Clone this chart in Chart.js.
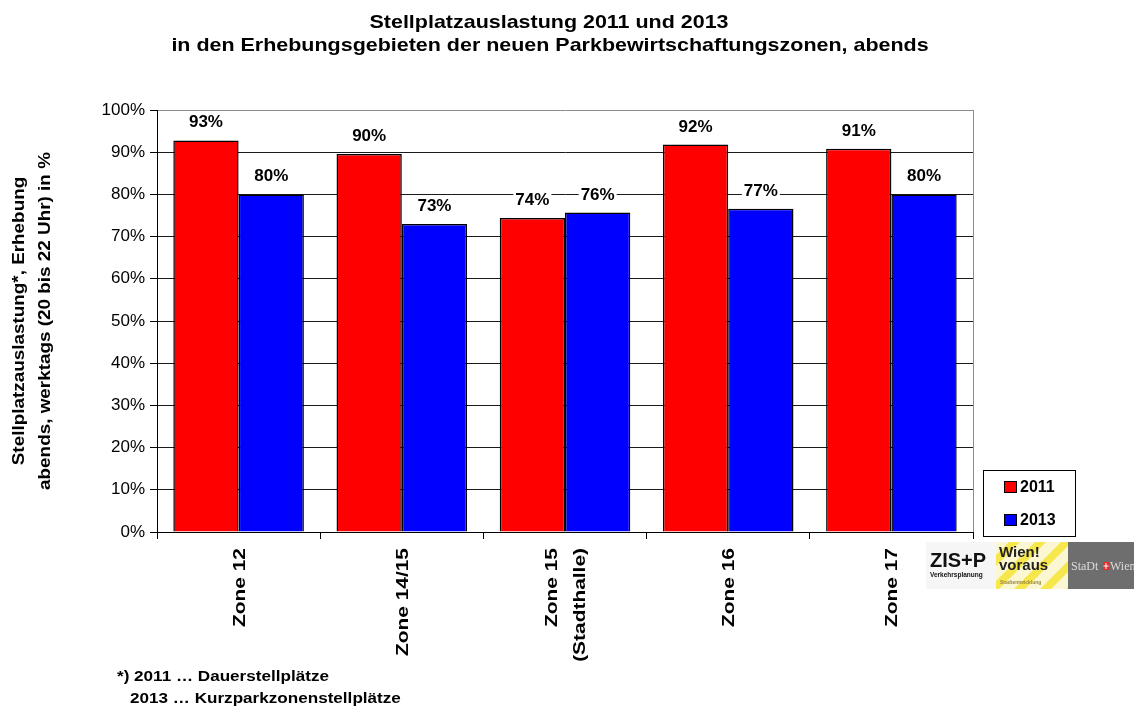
<!DOCTYPE html>
<html lang="de">
<head>
<meta charset="utf-8">
<title>Stellplatzauslastung 2011 und 2013</title>
<script src="https://cdn.jsdelivr.net/npm/chart.js@4.4.1/dist/chart.umd.min.js"></script>
<style>
  html, body { margin: 0; padding: 0; background: #fff; }
  #wrap { position: relative; width: 1134px; height: 708px; }
  canvas { display: block; }
</style>
</head>
<body>
<div id="wrap"><canvas id="chart" width="1134" height="708"></canvas></div>
<script>
// Erhebungsgebiete (Kategorien)
const categories = ['Zone 12', 'Zone 14/15', ['Zone 15', '(Stadthalle)'], 'Zone 16', 'Zone 17'];
// Auslastung in % je Jahr
const series2011 = [92.8, 89.6, 74.4, 91.8, 90.8];
const series2013 = [80.0, 73.0, 75.7, 76.6, 80.0];
const seriesNames = ['2011', '2013'];
// Y-Achse
const yMin = 0;
const yMax = 100;
const yStep = 10;

const titleLines = [
  'Stellplatzauslastung 2011 und 2013',
  'in den Erhebungsgebieten der neuen Parkbewirtschaftungszonen, abends'
];
const yTitleLines = [
  'Stellplatzauslastung*, Erhebung',
  'abends, werktags (20 bis 22 Uhr) in %'
];
const footnoteLines = [
  '*) 2011 \u2026 Dauerstellpl\u00e4tze',
  '2013 \u2026 Kurzparkzonenstellpl\u00e4tze'
];

const FONT = '"Liberation Sans", Arial, Helvetica, sans-serif';

// horizontally widened text, as in the Office export
function stretchedText(ctx, text, x, y, sx, align, angle) {
  ctx.save();
  ctx.translate(x, y);
  if (angle) ctx.rotate(angle);
  ctx.scale(sx, 1);
  ctx.textAlign = align;
  ctx.fillText(text, 0, 0);
  ctx.restore();
}

const decorations = {
  id: 'decorations',
  afterDatasetsDraw(chart) {
    // value labels above each bar, on a white backing
    const ctx = chart.ctx;
    ctx.save();
    ctx.font = 'bold 17px ' + FONT;
    ctx.textBaseline = 'alphabetic';
    ctx.textAlign = 'center';
    chart.data.datasets.forEach((ds, di) => {
      const meta = chart.getDatasetMeta(di);
      meta.data.forEach((bar, i) => {
        const txt = Math.round(ds.data[i]) + '%';
        const w = ctx.measureText(txt).width;
        const by = bar.y - 13;
        ctx.fillStyle = '#fff';
        ctx.fillRect(bar.x - w / 2 - 2, by - 14, w + 4, 17);
        ctx.fillStyle = '#000';
        ctx.fillText(txt, bar.x, by);
      });
    });
    ctx.restore();
  },
  afterDraw(chart) {
    const ctx = chart.ctx;
    const area = chart.chartArea;
    ctx.save();

    // right frame of the plot area
    ctx.strokeStyle = '#8c8c8c';
    ctx.lineWidth = 1;
    ctx.beginPath();
    ctx.moveTo(Math.round(area.right) + 0.5, area.top);
    ctx.lineTo(Math.round(area.right) + 0.5, area.bottom);
    ctx.stroke();

    // category labels, rotated, read bottom-to-top, ending below the axis
    const xs = chart.scales.x;
    ctx.fillStyle = '#000';
    ctx.font = 'bold 17px ' + FONT;
    ctx.textBaseline = 'alphabetic';
    const labelTop = area.bottom + 16;
    const lineGap = 28;
    xs.ticks.forEach((t, i) => {
      const lab = chart.data.labels[i];
      const lines = Array.isArray(lab) ? lab : [lab];
      const cx = xs.getPixelForTick(i);
      lines.forEach((ln, k) => {
        const off = (k - (lines.length - 1) / 2) * lineGap;
        stretchedText(ctx, ln, cx + off + 6, labelTop, 1.23, 'right', -Math.PI / 2);
      });
    });

    // title
    ctx.font = 'bold 18.5px ' + FONT;
    stretchedText(ctx, titleLines[0], 549, 28, 1.16, 'center');
    stretchedText(ctx, titleLines[1], 550, 51, 1.16, 'center');

    // y axis title (two lines, rotated)
    ctx.font = 'bold 16px ' + FONT;
    const yc = (area.top + area.bottom) / 2;
    stretchedText(ctx, yTitleLines[0], 24, yc, 1.18, 'center', -Math.PI / 2);
    stretchedText(ctx, yTitleLines[1], 50, yc, 1.18, 'center', -Math.PI / 2);

    // footnote
    ctx.font = 'bold 15px ' + FONT;
    stretchedText(ctx, footnoteLines[0], 117, 681, 1.14, 'left');
    stretchedText(ctx, footnoteLines[1], 130, 703, 1.14, 'left');

    // legend box
    const lx = 983.5, ly = 470.5, lw = 92, lh = 66;
    ctx.strokeStyle = '#000';
    ctx.lineWidth = 1;
    ctx.strokeRect(lx, ly, lw, lh);
    ctx.font = 'bold 16px ' + FONT;
    ctx.textBaseline = 'middle';
    ctx.textAlign = 'left';
    chart.data.datasets.forEach((ds, i) => {
      const cy = 487 + i * 33;
      ctx.fillStyle = ds.backgroundColor;
      ctx.fillRect(1004.5, cy - 5.5, 12, 11);
      ctx.strokeRect(1004.5, cy - 5.5, 12, 11);
      ctx.fillStyle = '#000';
      ctx.fillText(ds.label, 1020, cy + 1);
    });

    // partner logos
    ctx.textBaseline = 'alphabetic';
    ctx.fillStyle = '#f6f6f6';
    ctx.fillRect(926, 542, 70, 47);
    ctx.fillStyle = '#111';
    ctx.font = 'bold 20px ' + FONT;
    stretchedText(ctx, 'ZIS+P', 930, 567, 1.0, 'left');
    ctx.font = 'bold 6.5px ' + FONT;
    stretchedText(ctx, 'Verkehrsplanung', 930, 577, 1.0, 'left');

    // Wien! voraus
    ctx.save();
    ctx.beginPath();
    ctx.rect(996, 542, 72, 47);
    ctx.clip();
    ctx.fillStyle = '#fbf7d2';
    ctx.fillRect(996, 542, 72, 47);
    ctx.fillStyle = '#f6e84c';
    for (let s = -60; s < 120; s += 26) {
      ctx.beginPath();
      ctx.moveTo(996 + s, 589);
      ctx.lineTo(996 + s + 11, 589);
      ctx.lineTo(996 + s + 58, 542);
      ctx.lineTo(996 + s + 47, 542);
      ctx.closePath();
      ctx.fill();
    }
    ctx.restore();
    ctx.fillStyle = '#222';
    ctx.font = 'bold 15px ' + FONT;
    stretchedText(ctx, 'Wien!', 999, 557, 1.0, 'left');
    stretchedText(ctx, 'voraus', 999, 570, 1.0, 'left');
    ctx.fillStyle = '#9a8a40';
    ctx.font = 'bold 5px ' + FONT;
    stretchedText(ctx, 'Stadtentwicklung', 1000, 584, 1.0, 'left');

    // Stadt Wien
    ctx.fillStyle = '#6e6e6e';
    ctx.fillRect(1068, 542, 66, 47);
    ctx.font = '12px "Liberation Serif", "DejaVu Serif", serif';
    ctx.fillStyle = '#dcdcdc';
    ctx.textAlign = 'left';
    ctx.fillText('StaDt', 1071, 570);
    ctx.fillStyle = '#e23030';
    ctx.fillRect(1103, 562, 6, 8);
    ctx.fillStyle = '#fff';
    ctx.fillRect(1105.5, 563, 1, 6);
    ctx.fillRect(1103.5, 565.5, 5, 1);
    ctx.fillStyle = '#dcdcdc';
    ctx.fillText('Wien', 1110, 570);

    ctx.restore();
  }
};

const chart = new Chart(document.getElementById('chart'), {
  type: 'bar',
  data: {
    labels: categories,
    datasets: [
      {
        label: seriesNames[0],
        data: series2011,
        backgroundColor: '#ff0000',
        borderColor: '#000',
        borderWidth: 1.5,
        categoryPercentage: 0.8,
        barPercentage: 1.0
      },
      {
        label: seriesNames[1],
        data: series2013,
        backgroundColor: '#0000ff',
        borderColor: '#000',
        borderWidth: 1.5,
        categoryPercentage: 0.8,
        barPercentage: 1.0
      }
    ]
  },
  options: {
    responsive: false,
    animation: false,
    devicePixelRatio: 1,
    layout: { padding: { top: 110, right: 161, left: 0, bottom: 0 } },
    plugins: {
      legend: { display: false },
      title: { display: false },
      tooltip: { enabled: false }
    },
    scales: {
      x: {
        grid: {
          offset: true,
          drawOnChartArea: false,
          drawTicks: true,
          tickLength: 7,
          color: '#000'
        },
        border: { color: '#000', width: 1 },
        ticks: { display: false, autoSkip: false },
        afterFit(scale) { scale.height = 176; }
      },
      y: {
        min: yMin,
        max: yMax,
        ticks: {
          stepSize: yStep,
          color: '#000',
          font: { family: FONT, size: 17 },
          padding: 5,
          callback: v => v + '%'
        },
        grid: {
          color: ctx => (ctx.tick && ctx.tick.value === yMax ? '#8c8c8c' : '#1a1a1a'),
          tickColor: '#000',
          lineWidth: 1,
          drawTicks: true,
          tickLength: 7
        },
        border: { color: '#000', width: 1 },
        afterFit(scale) { scale.width = 157; }
      }
    }
  },
  plugins: [decorations]
});
</script>
</body>
</html>
